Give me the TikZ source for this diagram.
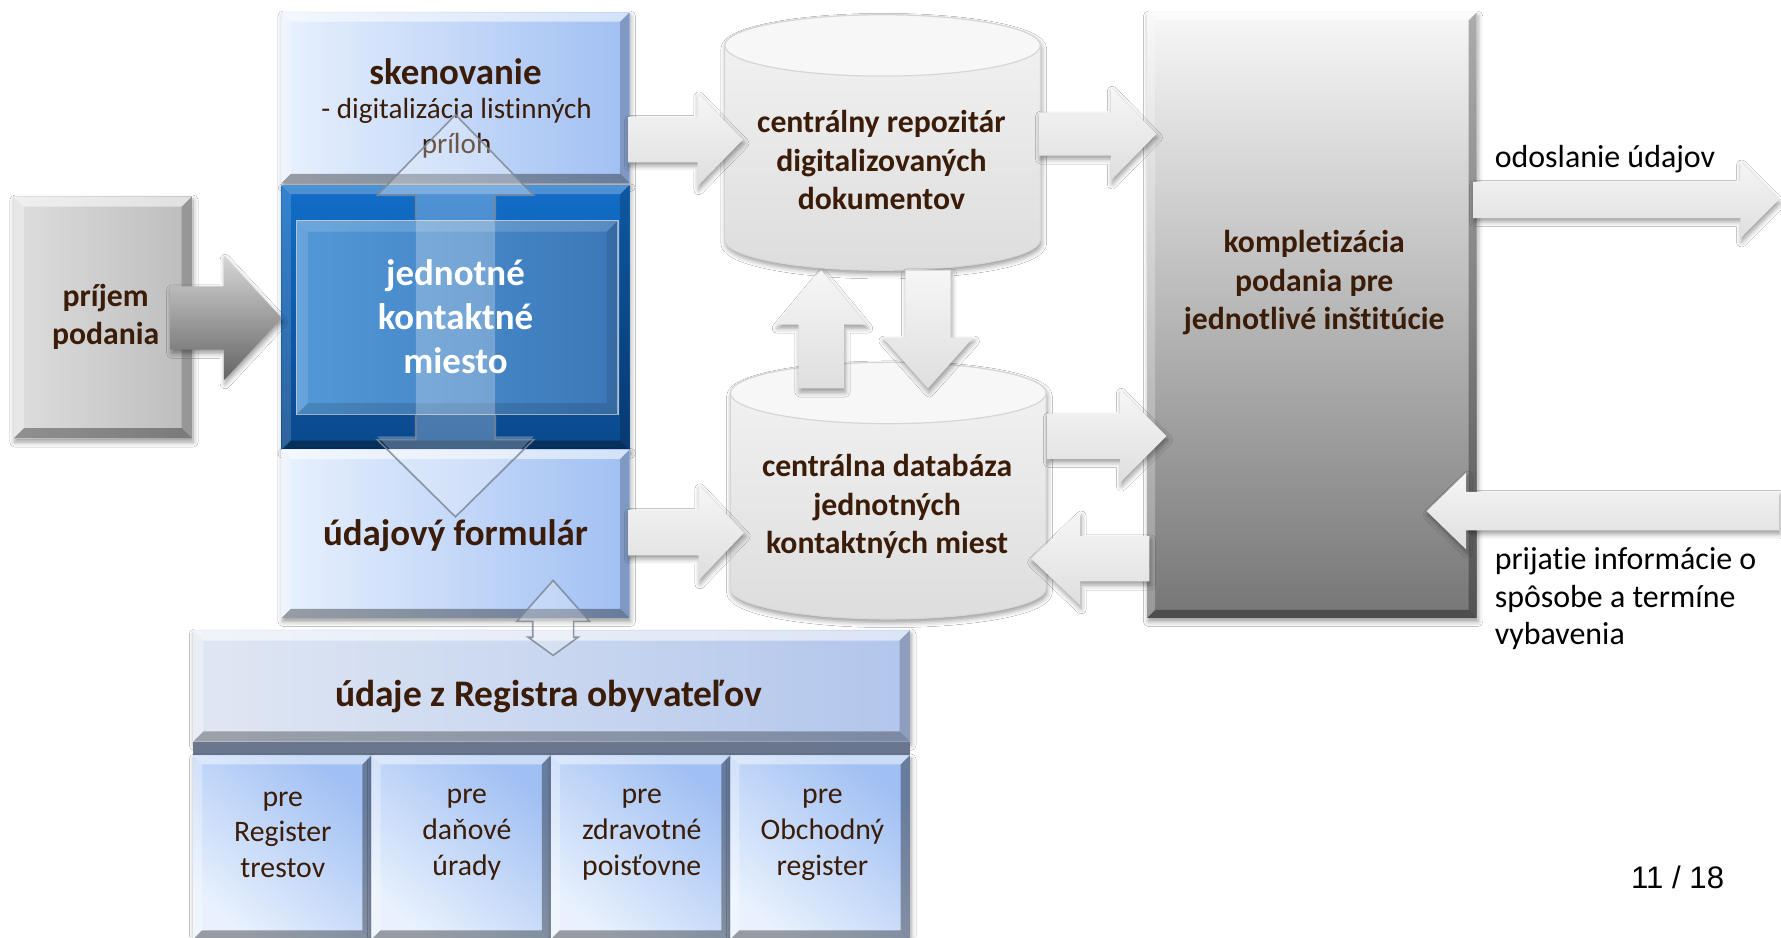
\documentclass[tikz,border=0pt]{standalone}
\usepackage{fontspec}
\setmainfont{Carlito}[Ligatures=NoCommon]
\newfontfamily\arialf{Liberation Sans}
\usetikzlibrary{calc,shadows.blur}

\definecolor{txtbrown}{RGB}{58,28,8}
\definecolor{lbL}{RGB}{232,241,253}
\definecolor{lbR}{RGB}{160,191,243}
\definecolor{rgL}{RGB}{224,231,243}
\definecolor{rgR}{RGB}{178,198,236}
\definecolor{pgL}{RGB}{222,222,222}
\definecolor{pgR}{RGB}{188,188,188}
\definecolor{kT}{RGB}{247,247,247}
\definecolor{kM}{RGB}{205,205,205}
\definecolor{kB}{RGB}{118,118,118}
\definecolor{faT}{RGB}{246,246,246}
\definecolor{faB}{RGB}{222,222,222}
\definecolor{jkT}{RGB}{18,110,200}
\definecolor{jkB}{RGB}{10,72,140}
\definecolor{jiL}{RGB}{82,152,215}
\definecolor{jiR}{RGB}{60,120,184}
\definecolor{jiLine}{RGB}{175,192,210}
\definecolor{glassline}{RGB}{125,135,148}
\definecolor{cylT}{RGB}{243,243,243}
\definecolor{cylB}{RGB}{221,221,221}
\definecolor{cylTop}{RGB}{247,247,247}
\definecolor{cylLine}{RGB}{214,214,214}
\definecolor{stripe}{RGB}{105,118,140}
\definecolor{gaT}{RGB}{214,214,214}
\definecolor{gaM}{RGB}{160,160,160}
\definecolor{gaB}{RGB}{100,100,100}

\newcommand\fB{\fontsize{15.9}{19.3}\selectfont\bfseries}
\newcommand\fBL{\fontsize{18.5}{21}\selectfont\bfseries}
\newcommand\fJ{\fontsize{18.5}{22.1}\selectfont\bfseries}
\newcommand\fS{\fontsize{14.6}{17.6}\selectfont}
\newcommand\fR{\fontsize{14.9}{17.9}\selectfont}
\newcommand\fT{\fontsize{16}{19.0}\selectfont}

% box node from corners (px units)
\newcommand\boxat[6][]{%
  \node[#1, minimum width={(#5-#3)*0.02cm}, minimum height={(#6-#4)*0.02cm}] (#2) at ({(#3+#5)/2},{(#4+#6)/2}) {};}

% bevel overlay: name, size, top op, left op, bottom op, right op
\newcommand\bevel[6]{%
  \fill[white,opacity=#3] (#1.north west) -- (#1.north east) -- ($(#1.north east)+(-#2,#2)$) -- ($(#1.north west)+(#2,#2)$) -- cycle;
  \fill[white,opacity=#4] (#1.north west) -- ($(#1.north west)+(#2,#2)$) -- ($(#1.south west)+(#2,-#2)$) -- (#1.south west) -- cycle;
  \fill[black,opacity=#5] (#1.south west) -- (#1.south east) -- ($(#1.south east)+(-#2,-#2)$) -- ($(#1.south west)+(#2,-#2)$) -- cycle;
  \fill[black,opacity=#6] (#1.north east) -- (#1.south east) -- ($(#1.south east)+(-#2,-#2)$) -- ($(#1.north east)+(-#2,#2)$) -- cycle;}

% block arrow from A to B: style, A, B, shaft half width, head half width, head length (px)
\newcommand\blockarr[6][]{%
  \pgfmathsetmacro\bsw{#4*0.5669}\pgfmathsetmacro\bhw{#5*0.5669}\pgfmathsetmacro\bhl{#6*0.5669}%
  \coordinate (bH) at ($(#3)!\bhl pt!(#2)$);
  \path[#1] ($(#2)!\bsw pt!90:(#3)$) -- ($(bH)!\bsw pt!90:(#3)$) -- ($(bH)!\bhw pt!90:(#3)$) -- (#3)
     -- ($(bH)!\bhw pt!-90:(#3)$) -- ($(bH)!\bsw pt!-90:(#3)$) -- ($(#2)!\bsw pt!-90:(#3)$) -- cycle;}

% double block arrow between A and B
\newcommand\dblarr[6][]{%
  \pgfmathsetmacro\bsw{#4*0.5669}\pgfmathsetmacro\bhw{#5*0.5669}\pgfmathsetmacro\bhl{#6*0.5669}%
  \coordinate (dHa) at ($(#2)!\bhl pt!(#3)$);
  \coordinate (dHb) at ($(#3)!\bhl pt!(#2)$);
  \path[#1] (#2) -- ($(dHa)!\bhw pt!90:(#3)$) -- ($(dHa)!\bsw pt!90:(#3)$) -- ($(dHb)!\bsw pt!-90:(#2)$)
     -- ($(dHb)!\bhw pt!-90:(#2)$) -- (#3) -- ($(dHb)!\bhw pt!90:(#2)$) -- ($(dHb)!\bsw pt!90:(#2)$)
     -- ($(dHa)!\bsw pt!-90:(#3)$) -- ($(dHa)!\bhw pt!-90:(#3)$) -- cycle;}

% cylinder: name, cx, ytop-centre, ybottom-centre
\newcommand\cyl[4]{%
  \path[cylbody] ({#2-139},#3) -- ({#2-139},#4) arc[start angle=180,end angle=360,x radius=2.78cm,y radius=0.54cm]
     -- ({#2+139},#3) arc[start angle=0,end angle=180,x radius=2.78cm,y radius=0.54cm] -- cycle;
  \path[cyltop] (#2,#3) ellipse[x radius=2.78cm,y radius=0.54cm];
  \node[minimum width=5.56cm, minimum height={(#4-#3+54)*0.02cm}] (#1) at (#2,{(#3+#4)/2}) {};}

\begin{document}
\begin{tikzpicture}[x=0.02cm,y=-0.02cm,
  every node/.style={inner sep=0pt,outer sep=0pt},
  shad/.style={blur shadow={shadow xshift=0.6pt,shadow yshift=-1.8pt,shadow blur radius=2.5pt,shadow opacity=40}},
  lightblue/.style={left color=lbL,right color=lbR,shad},
  regbox/.style={left color=rgL,right color=rgR,shad},
  subbox/.style={top color=lbR,bottom color=lbL,shading angle=-40,shad},
  graybox/.style={left color=pgL,right color=pgR,shad},
  komplbox/.style={top color=kT,middle color=kM,bottom color=kB,shad},
  jkbox/.style={top color=jkT,bottom color=jkB,shad},
  jkinner/.style={left color=jiL,right color=jiR,draw=jiLine,line width=0.6pt},
  flatarr/.style={top color=faT,bottom color=faB,shad},
  grayarr/.style={top color=gaT,middle color=gaM,bottom color=gaB,shad},
  glassfill/.style={fill=white,fill opacity=.26},
  glassedge/.style={draw=glassline,draw opacity=.85,line width=0.8pt},
  glassarr/.style={glassfill,glassedge},
  cylbody/.style={top color=cylT,bottom color=cylB,draw=cylLine,line width=0.5pt,shad},
  cyltop/.style={fill=cylTop,draw=cylLine,line width=0.6pt},
  tb/.style={font=\fB,text=txtbrown,align=center},
  tr/.style={font=\fR,text=txtbrown,align=center},
  tt/.style={font=\fT,text=black,align=left,anchor=west}]

\useasboundingbox (0,0) rectangle (1568,825);
\fill[white] (0,0) rectangle (1568,825);

% ---------- boxes ----------
\boxat[graybox]{prijem}{12}{173}{169}{386}
\bevel{prijem}{9}{.55}{.3}{.35}{.2}

\boxat[lightblue]{skan}{248}{11}{554}{161}
\bevel{skan}{8}{.55}{.3}{.35}{.2}

\boxat[jkbox]{jkm}{248}{163}{554}{396}
\bevel{jkm}{8}{.25}{.15}{.35}{.2}
\boxat[jkinner]{jkin}{261}{194}{544}{365}
\bevel{jkin}{10}{.15}{.12}{.12}{.1}

\boxat[lightblue]{udaj}{248}{396}{554}{544}
\bevel{udaj}{8}{.55}{.3}{.35}{.2}

\boxat[regbox]{reg}{170}{555}{801}{653}
\bevel{reg}{9}{.55}{.3}{.3}{.2}
\fill[stripe] (reg.south west) rectangle ($(reg.south east)+(0,12)$);

\boxat[subbox]{r1}{170}{665}{327}{827}
\boxat[subbox]{r2}{327}{665}{485}{827}
\boxat[subbox]{r3}{485}{665}{643}{827}
\boxat[subbox]{r4}{643}{665}{801}{827}
\bevel{r1}{8}{.45}{.3}{.35}{.35}
\bevel{r2}{8}{.45}{.3}{.35}{.35}
\bevel{r3}{8}{.45}{.3}{.35}{.35}
\bevel{r4}{8}{.45}{.3}{.35}{.35}

\boxat[komplbox]{kompl}{1010}{11}{1300}{544}
\bevel{kompl}{7}{.5}{.25}{.35}{.3}

\cyl{cyl1}{777}{40}{211}
\cyl{cyl2}{782}{346}{518}

% ---------- texts under the glass arrows ----------
\node[tb,font=\fBL] (tskan) at (401,63) {skenovanie};
\node[font=\fS,text=txtbrown,align=center] (tskan2) at (402,113) {- digitalizácia listinných\\príloh};
\node[tb,font=\fBL] (tudaj) at (401,472) {údajový formulár};

% ---------- connectors ----------
\coordinate (a0s) at (150,280);  \coordinate (a0e) at (248,280);
\blockarr[grayarr]{a0s}{a0e}{28}{55}{51}

\coordinate (a1s) at (553,123);  \coordinate (a1e) at (654,123);
\blockarr[flatarr]{a1s}{a1e}{20}{41}{40}
\coordinate (a2s) at (553,469);  \coordinate (a2e) at (655,469);
\blockarr[flatarr]{a2s}{a2e}{20}{42}{40}
\coordinate (a3s) at (915,118);  \coordinate (a3e) at (1018,118);
\blockarr[flatarr]{a3s}{a3e}{19}{41}{40}
\coordinate (a4s) at (922,384);  \coordinate (a4e) at (1027,384);
\blockarr[flatarr]{a4s}{a4e}{20}{41}{41}
\coordinate (a5s) at (1012,492); \coordinate (a5e) at (908,492);
\blockarr[flatarr]{a5s}{a5e}{20}{41}{43}
\coordinate (a6s) at (723,342);  \coordinate (a6e) at (723,238);
\blockarr[flatarr]{a6s}{a6e}{20}{40}{48}
\coordinate (a7s) at (817,238);  \coordinate (a7e) at (817,342);
\blockarr[flatarr]{a7s}{a7e}{20}{40}{45}
\coordinate (a8s) at (1297,176); \coordinate (a8e) at (1566,176);
\blockarr[flatarr]{a8s}{a8e}{16}{34}{34}
\coordinate (a9s) at (1566,450); \coordinate (a9e) at (1256,450);
\blockarr[flatarr]{a9s}{a9e}{17}{34}{35}

% glass double arrow through the left column
\coordinate (dTop) at (401,101); \coordinate (dBot) at (401,455);
\dblarr[glassfill]{dTop}{dBot}{35}{69}{71}
\draw[glassedge] ($(dTop)+(-35,93)$) -- ($(dTop)+(-35,71)$) -- ($(dTop)+(-69,71)$) -- (dTop)
   -- ($(dTop)+(69,71)$) -- ($(dTop)+(35,71)$) -- ($(dTop)+(35,93)$);
\draw[glassedge] ($(dBot)+(-35,-90)$) -- ($(dBot)+(-35,-68)$) -- ($(dBot)+(-69,-68)$) -- (dBot)
   -- ($(dBot)+(69,-68)$) -- ($(dBot)+(35,-68)$) -- ($(dBot)+(35,-90)$);

% small glass arrow between register and form
\coordinate (sTop) at (487,511); \coordinate (sBot) at (487,577);
\path[glassarr] (sTop) -- ($(sTop)+(32,36)$) -- ($(sTop)+(18,36)$) -- ($(sBot)+(18,-16)$) -- ($(sBot)+(22,-16)$)
   -- (sBot) -- ($(sBot)+(-22,-16)$) -- ($(sBot)+(-18,-16)$) -- ($(sTop)+(-18,36)$) -- ($(sTop)+(-32,36)$) -- cycle;

% ---------- texts ----------
\node[tb] (tprijem) at (93,279) {príjem\\podania};
\node[font=\fJ,text=white,align=center] (tjkm) at (401,279) {jednotné\\kontaktné\\miesto};
\node[tb,font=\fontsize{18.8}{21}\selectfont\bfseries] (treg) at (483,613) {údaje z Registra obyvateľov};
\node[tr] (tr1) at (249,735) {pre\\Register\\trestov};
\node[tr] (tr2) at (411,735) {pre\\daňové\\úrady};
\node[tr] (tr3) at (565,735) {pre\\zdravotné\\poisťovne};
\node[tr] (tr4) at (724,735) {pre\\Obchodný\\register};
\node[tb] (tcyl1) at (776,141) {centrálny repozitár\\digitalizovaných\\dokumentov};
\node[tb] (tcyl2) at (781,446) {centrálna databáza\\jednotných\\kontaktných miest};
\node[tb] (tkompl) at (1157,249) {kompletizácia\\podania pre\\jednotlivé inštitúcie};
\node[tt] (todos) at (1316,140) {odoslanie údajov};
\node[tt] (tprij) at (1316,527) {prijatie informácie o\\spôsobe a termíne\\vybavenia};
\node[font=\arialf\fontsize{15.6}{18}\selectfont,text=black] (tpage) at (1477,772) {11 / 18};

\end{tikzpicture}
\end{document}
